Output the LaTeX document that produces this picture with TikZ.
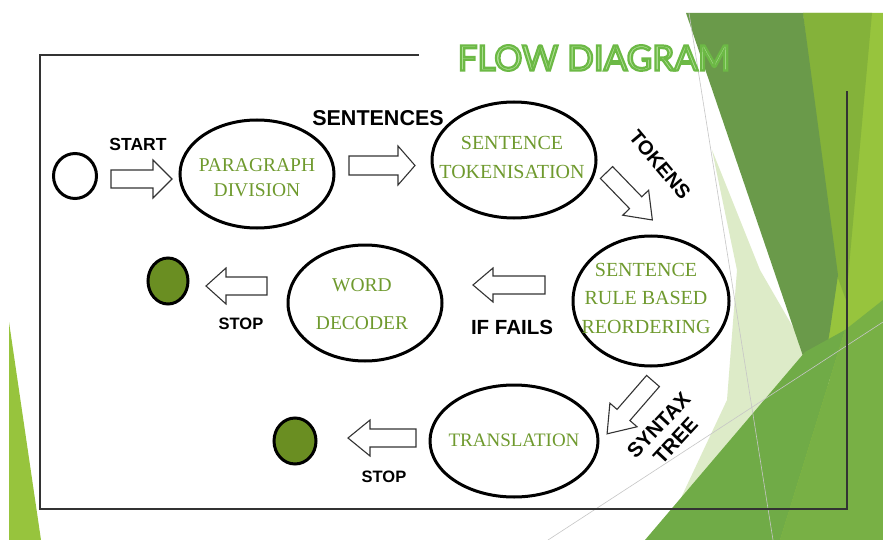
\documentclass[tikz,border=0pt]{standalone}
\usepackage{fontspec}
\setmainfont{Liberation Serif}
\newfontfamily\labelfont{Liberation Sans}
\newfontfamily\titlefont{Lato}
\usetikzlibrary{shapes.geometric}
\definecolor{stepgreen}{HTML}{6F9A2E}
\definecolor{stopgreen}{HTML}{6A8E22}
\definecolor{titlefill}{HTML}{B6E39C}
\definecolor{titleedge}{HTML}{6CB945}
\definecolor{bgdark}{HTML}{6A9A4A}
\definecolor{bgbright}{HTML}{97C43D}
\definecolor{bgmid}{HTML}{84B23A}
\definecolor{bgpale}{HTML}{DDEBC8}
\definecolor{bgmedium}{HTML}{70AB47}
\definecolor{framegray}{HTML}{333333}
\newcommand{\barrow}[8]{%
  \begin{scope}[shift={(#2,#3)}, rotate=#4]
    \draw[blockarrow] (0,-#7) -- ({#5-#6},-#7) -- ({#5-#6},-#8) -- (#5,0) -- ({#5-#6},#8) -- ({#5-#6},#7) -- (0,#7) -- cycle;
    \coordinate (#1) at (#5,0);
  \end{scope}}
\newcommand{\outlinedtext}[1]{\special{pdf:literal direct 0.424 0.725 0.271 RG 2.2 w 2 Tr}#1\special{pdf:literal direct 0 Tr 0 0 0 RG}}
\tikzset{
  stepbox/.style={ellipse, draw=black, line width=3pt, inner sep=0pt},
  steptext/.style={text=stepgreen, align=center, font=\fontsize{20}{28}\selectfont},
  stopdot/.style={ellipse, draw=black, line width=3pt, fill=stopgreen, inner sep=0pt},
  lbl/.style={font=\labelfont\bfseries\fontsize{18}{21}\selectfont, text=black, align=center},
  blockarrow/.style={draw=framegray, line width=1.1pt, fill=white, line join=miter},
  framestyle/.style={draw=framegray, line width=2pt, line cap=rect},
  thinline/.style={draw=gray!45, line width=0.6pt}
}
\begin{document}
\begin{tikzpicture}[x=1pt, y=-1pt]
\useasboundingbox (0,0) rectangle (883,540);
\fill[white] (0,0) rectangle (883,540);
% background decoration
\fill[bgbright] (803,13) -- (883,13) -- (883,540) -- (760,540) -- (830,380) -- cycle;
\fill[bgmid] (803,13) -- (872,13) -- (846,300) -- (835,270) -- cycle;
\fill[bgpale] (712,150) -- (760,270) -- (812,360) -- (680,500) -- (727,400) -- (737,270) -- cycle;
\fill[bgdark] (686,13) -- (803,13) -- (838,275) -- (830,330) -- (818,400) -- cycle;
\fill[bgmedium] (645,540) -- (805,352) -- (845,330) -- (780,540) -- cycle;
\fill[bgmedium!80!bgbright] (780,540) -- (845,330) -- (883,300) -- (883,540) -- cycle;
\fill[bgbright] (9,322) -- (9,540) -- (41,540) -- cycle;
\draw[thinline] (689,13) -- (773,540);
\draw[thinline] (548,540) -- (883,322);
% frame
\draw[framestyle] (418,55) -- (40,55) -- (40,509) -- (847,509) -- (847,92);
% title
\node (title) [font=\titlefont\fontsize{35}{40}\selectfont, text=titlefill] at (594,58) {\outlinedtext{FLOW DIAGRAM}};
% start / stop circles
\node (start) [ellipse, draw=black, line width=3pt, fill=white, minimum width=43pt, minimum height=45pt, inner sep=0pt] at (75,176) {};
\node (stop1) [stopdot, minimum width=40pt, minimum height=46pt] at (168,281) {};
\node (stop2) [stopdot, minimum width=42pt, minimum height=46pt] at (295,441) {};
% process ellipses
\node (para) [stepbox, minimum width=154pt, minimum height=108pt] at (257,174) {};
\node [steptext, font=\fontsize{19.5}{25}\selectfont] at (257,178) {PARAGRAPH\\DIVISION};
\node (token) [stepbox, minimum width=164pt, minimum height=116pt] at (514,160) {};
\node [steptext, font=\fontsize{20}{29}\selectfont] at (512,157) {SENTENCE\\TOKENISATION};
\node (reorder) [stepbox, minimum width=156pt, minimum height=130pt] at (651,301) {};
\node [steptext, font=\fontsize{20}{28.5}\selectfont] at (646,298) {SENTENCE\\RULE BASED\\REORDERING};
\node (decoder) [stepbox, minimum width=154pt, minimum height=116pt] at (365,303) {};
\node [steptext, font=\fontsize{19.5}{38}\selectfont] at (362,304) {WORD\\DECODER};
\node (transl) [stepbox, minimum width=168pt, minimum height=112pt] at (514,441) {};
\node [steptext, font=\fontsize{19}{24}\selectfont] at (514,440) {TRANSLATION};
% block arrows
\barrow{a1}{111}{179}{0}{61}{19}{9}{19}
\barrow{a2}{349}{165.5}{0}{66}{17}{9.5}{19.5}
\barrow{a3}{606.5}{172.5}{-46}{66}{24}{8.5}{18}
\barrow{a4}{545}{285}{180}{72}{20}{9}{17}
\barrow{a5}{267}{286}{180}{61}{20}{9}{18}
\barrow{a6}{653}{381}{-131}{70}{25}{8.5}{18}
\barrow{a7}{416}{438}{180}{68}{22}{9}{18}
% labels
\node (lstart) [lbl, font=\labelfont\bfseries\fontsize{17.5}{21}\selectfont] at (138,144) {START};
\node (lsent) [lbl, font=\labelfont\bfseries\fontsize{21.5}{25}\selectfont] at (378,118) {SENTENCES};
\node (ltok) [lbl, font=\labelfont\bfseries\fontsize{20}{22}\selectfont, rotate=-50] at (660,165) {TOKENS};
\node (lstop1) [lbl, font=\labelfont\bfseries\fontsize{16.5}{20}\selectfont] at (241,324) {STOP};
\node (lfail) [lbl, font=\labelfont\bfseries\fontsize{20.5}{24}\selectfont] at (512,327) {IF FAILS};
\node (lstop2) [lbl, font=\labelfont\bfseries\fontsize{16.5}{20}\selectfont] at (384,477) {STOP};
\node (lsyn) [lbl, font=\labelfont\bfseries\fontsize{20.5}{23}\selectfont, rotate=47] at (667,433) {SYNTAX\\TREE};
\end{tikzpicture}
\end{document}
